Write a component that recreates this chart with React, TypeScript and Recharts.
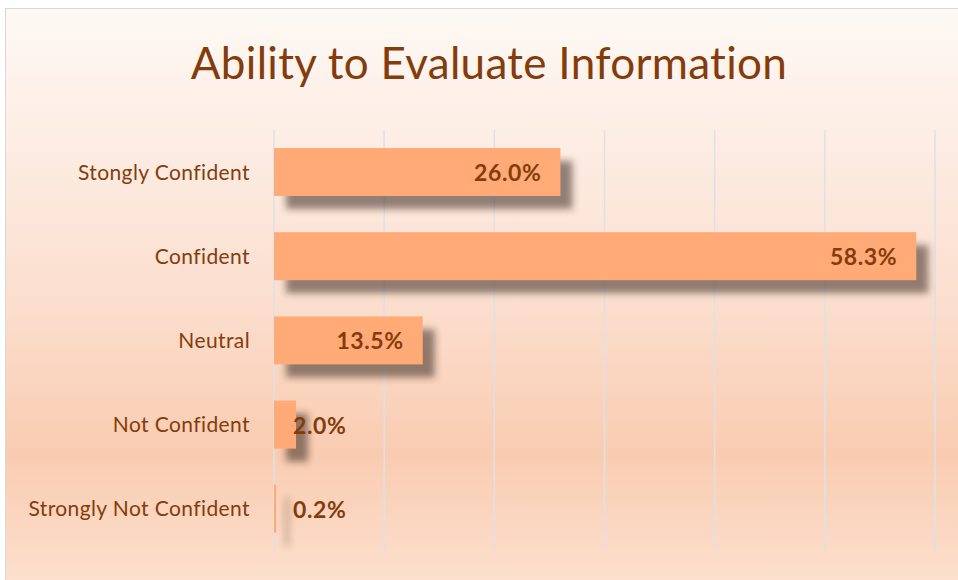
import { BarChart, Bar, XAxis, YAxis, CartesianGrid, LabelList } from 'recharts';

const categories = ['Stongly Confident', 'Confident', 'Neutral', 'Not Confident', 'Strongly Not Confident'];
const shares = [26.0, 58.3, 13.5, 2.0, 0.2];
const xTicks = [0, 10, 20, 30, 40, 50, 60];

const data = categories.map((name, i) => ({ name, value: shares[i] }));

const BROWN = '#843c0c';
const FONT = 'Lato, "Open Sans", sans-serif';

const ShadowBar = (props: any) => {
  const { x, y, width, height } = props;
  return (
    <g>
      <rect x={x + 12} y={y + 13} width={Math.max(width, 1)} height={height} fill="#3b2b22" fillOpacity={0.55} filter="url(#barBlur)" />
      <rect x={x} y={y} width={width} height={height} fill="#ffaa77" />
    </g>
  );
};

const ValueLabel = (props: any) => {
  const { x, y, width, height, value } = props;
  const text = `${Number(value).toFixed(1)}%`;
  const fits = width > 100;
  return (
    <text
      x={fits ? x + width - 19 : x + 19}
      y={y + height / 2}
      textAnchor={fits ? 'end' : 'start'}
      dominantBaseline="central"
      fill={BROWN}
      fontFamily={FONT}
      fontWeight={700}
      fontSize={23}
      letterSpacing={0.6}
    >
      {text}
    </text>
  );
};

export default function App() {
  return (
    <div
      style={{
        position: 'fixed',
        left: 5,
        top: 8,
        width: 953,
        height: 572,
        borderLeft: '1px solid #d9d9d9',
        borderTop: '1px solid #d9d9d9',
        boxSizing: 'border-box',
        background: 'linear-gradient(to bottom, #fef9f5 0%, #fdeee5 21%, #fbdfcf 50%, #f9ccb1 78%, #fbd8c3 92%, #fcdfcd 100%)',
        overflow: 'hidden',
      }}
    >
      <div
        style={{
          position: 'absolute',
          left: 0,
          width: 966,
          top: 27,
          textAlign: 'center',
          fontFamily: FONT,
          fontSize: 44,
          letterSpacing: 0.3,
          color: BROWN,
        }}
      >
        Ability to Evaluate Information
      </div>
      <BarChart
        width={952}
        height={571}
        data={data}
        layout="vertical"
        margin={{ top: 121, right: 23, bottom: 29, left: 0 }}
        barSize={48}
      >
        <defs>
          <filter id="barBlur" filterUnits="userSpaceOnUse" x="0" y="0" width="952" height="571">
            <feGaussianBlur stdDeviation="3.5" />
          </filter>
        </defs>
        <CartesianGrid horizontal={false} stroke="#dde1e6" strokeWidth={1.5} />
        <XAxis type="number" domain={[0, 60]} ticks={xTicks} hide />
        <YAxis
          type="category"
          dataKey="name"
          width={268}
          axisLine={false}
          tickLine={false}
          tickSize={0}
          tickMargin={24}
          tick={{ fill: BROWN, fontFamily: FONT, fontSize: 21, letterSpacing: 0.4 }}
        />
        <Bar dataKey="value" shape={<ShadowBar />} isAnimationActive={false}>
          <LabelList dataKey="value" content={<ValueLabel />} />
        </Bar>
      </BarChart>
    </div>
  );
}
